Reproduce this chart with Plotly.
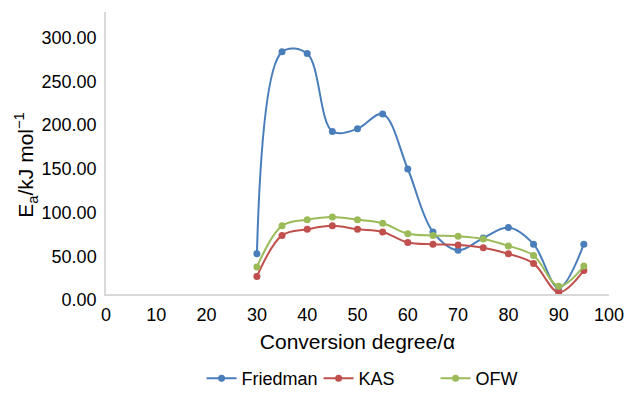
import plotly.graph_objects as go

conversion = [30, 35, 40, 45, 50, 55, 60, 65, 70, 75, 80, 85, 90, 95]
friedman = [46, 277, 275, 186, 189, 206, 143, 71, 50, 64, 76, 57, 7, 57]
kas = [20, 67, 74, 78, 74, 71, 59, 57, 56, 53, 46, 35, 2, 27]
ofw = [31, 78, 85, 88, 85, 81, 69, 67, 66, 63, 55, 44, 9, 32]

series_names = ["Friedman", "KAS", "OFW"]
series_colors = ["#4A7EBB", "#C0504D", "#9BBB59"]
y_ticks = [0, 50, 100, 150, 200, 250, 300]
x_ticks = [0, 10, 20, 30, 40, 50, 60, 70, 80, 90, 100]

font_family = "Liberation Sans, Arial, sans-serif"

fig = go.Figure()
for name, vals, color in zip(series_names, [friedman, kas, ofw], series_colors):
    fig.add_trace(go.Scatter(
        x=conversion, y=vals, name=name, mode="lines+markers",
        line=dict(color=color, width=2, shape="spline", smoothing=1.0),
        marker=dict(color=color, size=7),
    ))

fig.update_layout(
    width=625, height=395,
    margin=dict(l=106, r=16, t=12, b=101, autoexpand=False),
    paper_bgcolor="white", plot_bgcolor="white",
    font=dict(family=font_family, size=18, color="#000000"),
    showlegend=True,
    legend=dict(
        orientation="h", x=0.19, xanchor="left", y=-0.30, yanchor="middle",
        font=dict(size=18), itemwidth=30,
        entrywidth=72, entrywidthmode="pixels",
    ),
    annotations=[dict(
        text="E<sub>a</sub>/kJ mol<sup>−1</sup>", textangle=-90,
        xref="paper", yref="paper", x=-0.159, y=0.455,
        xanchor="center", yanchor="middle", showarrow=False,
        font=dict(size=21),
    )],
)

fig.update_xaxes(
    range=[0, 100], tickvals=x_ticks, ticktext=[str(t) for t in x_ticks],
    showline=True, linecolor="#D9D9D9", linewidth=1.5, showgrid=False,
    zeroline=False, ticks="", ticklabelstandoff=4, automargin=False,
    tickfont=dict(size=18),
    title=dict(text="Conversion degree/α", font=dict(size=21), standoff=10),
)
fig.update_yaxes(
    range=[0, 322.6], tickvals=y_ticks, ticktext=[f"{t:.2f}" for t in y_ticks],
    showline=True, linecolor="#D9D9D9", linewidth=1.5, showgrid=False,
    zeroline=False, ticks="", ticklabelshift=6, ticklabelstandoff=4,
    automargin=False,
    tickfont=dict(size=18),
)

fig.write_html("out.html")
